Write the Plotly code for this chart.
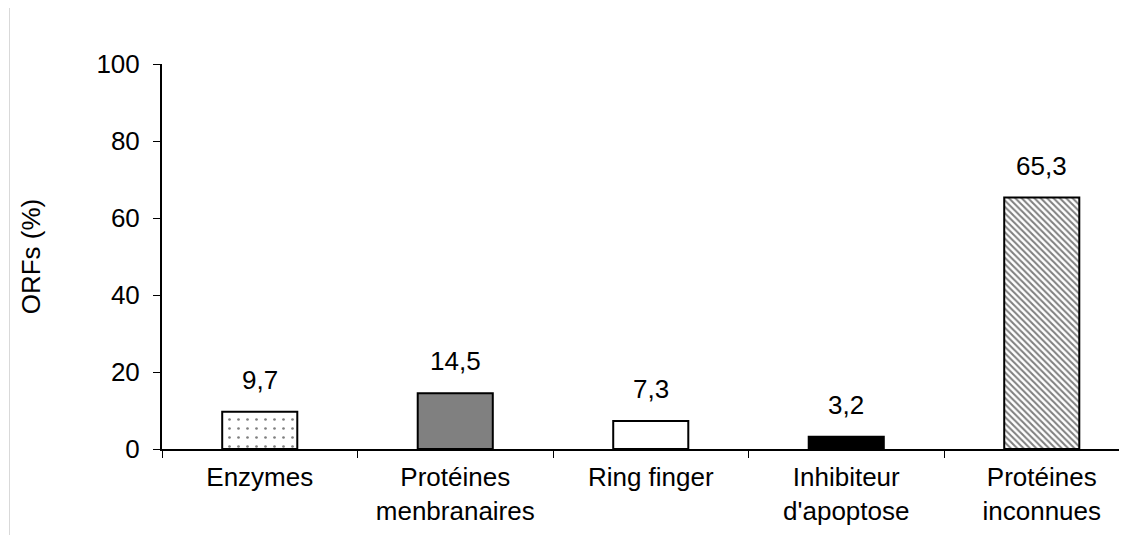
import plotly.graph_objects as go

categories = ["Enzymes", "Protéines<br>menbranaires", "Ring finger", "Inhibiteur<br>d'apoptose", "Protéines<br>inconnues"]
values = [9.7, 14.5, 7.3, 3.2, 65.3]
value_labels = ["9,7", "14,5", "7,3", "3,2", "65,3"]
y_ticks = [0, 20, 40, 60, 80, 100]

FONT = "Liberation Sans, Arial, sans-serif"
FS = 26

fig = go.Figure()

styles = [
    dict(color="white", pattern=dict(shape=".", fgcolor="black", bgcolor="white", size=9, solidity=0.07, fillmode="overlay")),
    dict(color="#808080"),
    dict(color="white"),
    dict(color="black"),
    dict(color="white", pattern=dict(shape="\\", fgcolor="black", bgcolor="white", size=4.5, solidity=0.45, fillmode="overlay")),
]

for i, (c, v) in enumerate(zip(categories, values)):
    m = dict(line=dict(color="black", width=2))
    m.update(styles[i])
    fig.add_trace(go.Bar(x=[c], y=[v], marker=m, width=0.384, showlegend=False, hoverinfo="skip"))

for c, v, t in zip(categories, values, value_labels):
    fig.add_annotation(x=c, y=v, text=t, showarrow=False, yanchor="bottom", yshift=15,
                       font=dict(family=FONT, size=FS, color="black"))

fig.add_shape(type="line", xref="paper", yref="paper", x0=-0.158, x1=-0.158, y0=-0.25, y1=1.2,
              line=dict(color="#d9d9d9", width=1))

fig.update_layout(
    width=1119, height=527,
    margin=dict(l=154, r=0, t=56, b=86),
    plot_bgcolor="white", paper_bgcolor="white",
    font=dict(family=FONT, size=FS, color="black"),
    barmode="overlay",
    xaxis=dict(
        type="category", categoryorder="array", categoryarray=categories,
        range=[-0.5, 4.436],
        showline=True, linecolor="black", linewidth=2,
        ticks="outside", tickson="boundaries", ticklen=7, tickwidth=1, tickcolor="black",
        showgrid=False, zeroline=False,
        tickfont=dict(family=FONT, size=FS, color="black"),
        ticklabelstandoff=4,
    ),
    yaxis=dict(
        range=[0, 100], tickvals=y_ticks,
        showline=True, linecolor="black", linewidth=2,
        ticks="outside", ticklen=7, tickwidth=1, tickcolor="black",
        showgrid=False, zeroline=False,
        tickfont=dict(family=FONT, size=FS, color="black"),
        ticklabelstandoff=8,
        title=dict(text="ORFs (%)", font=dict(family=FONT, size=FS, color="black"), standoff=48),
    ),
)

fig.write_html("out.html")
